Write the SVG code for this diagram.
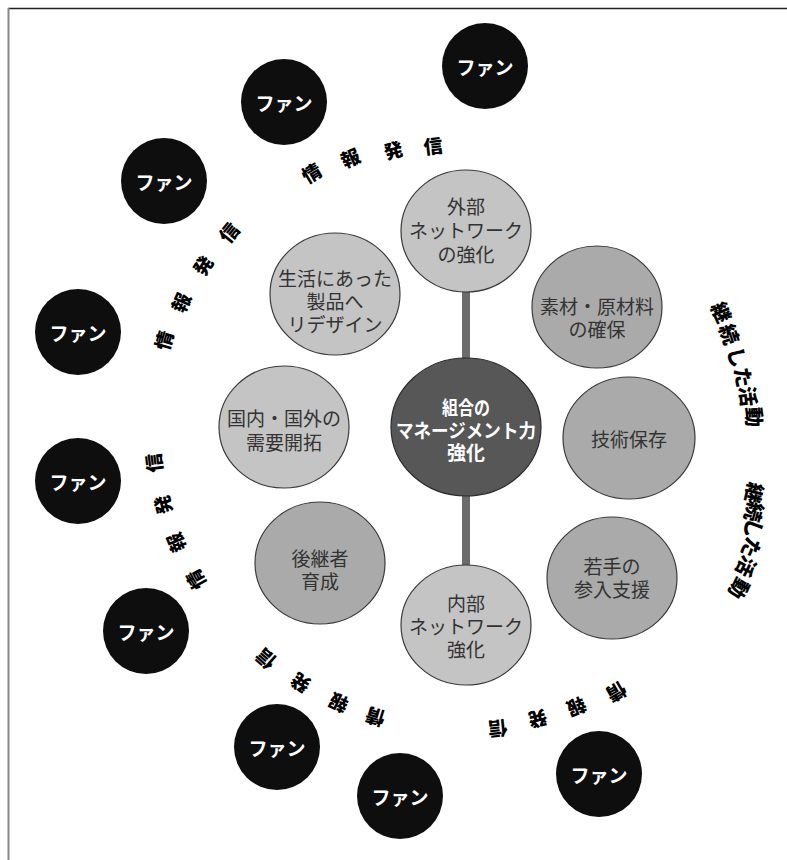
<svg xmlns="http://www.w3.org/2000/svg" width="787" height="860" viewBox="0 0 787 860">
<style>
text{font-family:"Noto Sans CJK JP","Noto Sans",sans-serif;text-anchor:middle;dominant-baseline:central}
.fan ellipse{fill:#0e0e0e}
.fan text{fill:#fff;font-size:19px;font-weight:bold}
.lt{fill:#c4c4c4;stroke:#3a3a3a;stroke-width:1.2}
.md{fill:#aaaaaa;stroke:#3a3a3a;stroke-width:1.2}
.ctr{fill:#575757;stroke:#2a2a2a;stroke-width:1.2}
.gt{fill:#333;font-size:19px}
.ct{fill:#fff;font-size:19px;font-weight:bold}
.lbl{fill:#000;font-size:19px;font-weight:900}
.lbl2{fill:#000;font-size:20px;font-weight:900}
.bar{stroke:#6b6b6b;stroke-width:8}
</style>
<rect width="787" height="860" fill="#fff"/>
<line x1="8" y1="8.5" x2="787" y2="8.5" stroke="#222" stroke-width="1.5"/>
<line x1="8.5" y1="8" x2="8.5" y2="860" stroke="#888" stroke-width="2"/>

<g id="connectors">
<line class="bar" x1="466" y1="288" x2="466" y2="362"/>
<line class="bar" x1="466" y1="492" x2="466" y2="569"/>
</g>

<g id="fan1" class="fan"><ellipse cx="485" cy="66" rx="43" ry="43"/><text x="485" y="66">ファン</text></g>
<g id="fan2" class="fan"><ellipse cx="284" cy="102" rx="43" ry="43"/><text x="284" y="102">ファン</text></g>
<g id="fan3" class="fan"><ellipse cx="164" cy="181" rx="43" ry="43"/><text x="164" y="181">ファン</text></g>
<g id="fan4" class="fan"><ellipse cx="78" cy="332" rx="43" ry="43"/><text x="78" y="332">ファン</text></g>
<g id="fan5" class="fan"><ellipse cx="78" cy="481" rx="43" ry="43"/><text x="78" y="481">ファン</text></g>
<g id="fan6" class="fan"><ellipse cx="146" cy="631" rx="43" ry="43"/><text x="146" y="631">ファン</text></g>
<g id="fan7" class="fan"><ellipse cx="277" cy="747" rx="43" ry="43"/><text x="277" y="747">ファン</text></g>
<g id="fan8" class="fan"><ellipse cx="400" cy="796" rx="43" ry="43"/><text x="400" y="796">ファン</text></g>
<g id="fan9" class="fan"><ellipse cx="599" cy="774" rx="43" ry="43"/><text x="599" y="774">ファン</text></g>

<g id="gaibu"><ellipse class="lt" cx="466" cy="231" rx="65" ry="61"/>
<text class="gt" x="466" y="205">外部</text><text class="gt" x="466" y="229">ネットワーク</text><text class="gt" x="466" y="253">の強化</text></g>
<g id="seikatsu"><ellipse class="lt" cx="335" cy="294" rx="65" ry="61"/>
<text class="gt" x="335" y="277">生活にあった</text><text class="gt" x="335" y="300">製品へ</text><text class="gt" x="335" y="323">リデザイン</text></g>
<g id="sozai"><ellipse class="md" cx="597" cy="307" rx="65" ry="61"/>
<text class="gt" x="597" y="305">素材・原材料</text><text class="gt" x="597" y="328">の確保</text></g>
<g id="kokunai"><ellipse class="lt" cx="284" cy="427" rx="65" ry="61"/>
<text class="gt" x="284" y="417">国内・国外の</text><text class="gt" x="284" y="441">需要開拓</text></g>
<g id="gijutsu"><ellipse class="md" cx="629" cy="438" rx="66" ry="61"/>
<text class="gt" x="629" y="438">技術保存</text></g>
<g id="koukeisha"><ellipse class="md" cx="320" cy="563" rx="65" ry="61"/>
<text class="gt" x="320" y="557">後継者</text><text class="gt" x="320" y="580">育成</text></g>
<g id="wakate"><ellipse class="md" cx="612" cy="578" rx="65" ry="61"/>
<text class="gt" x="612" y="565">若手の</text><text class="gt" x="612" y="588">参入支援</text></g>
<g id="naibu"><ellipse class="lt" cx="466" cy="625" rx="65" ry="60"/>
<text class="gt" x="466" y="602">内部</text><text class="gt" x="466" y="625">ネットワーク</text><text class="gt" x="466" y="648">強化</text></g>
<g id="center"><ellipse class="ctr" cx="466" cy="427" rx="75" ry="69"/>
<text class="ct" x="466" y="406" textLength="48" lengthAdjust="spacingAndGlyphs">組合の</text>
<text class="ct" x="466" y="429" textLength="140" lengthAdjust="spacingAndGlyphs">マネージメント力</text>
<text class="ct" x="466" y="451">強化</text></g>

<g id="label-top" class="lbl">
<text transform="translate(311,172) rotate(-31)">情</text>
<text transform="translate(350,157) rotate(-23)">報</text>
<text transform="translate(393,149) rotate(-15)">発</text>
<text transform="translate(433,145) rotate(-7)">信</text>
</g>
<g id="label-left1" class="lbl">
<text transform="translate(163,340) rotate(-74)">情</text>
<text transform="translate(180,302) rotate(-66)">報</text>
<text transform="translate(202,265) rotate(-58)">発</text>
<text transform="translate(228,232) rotate(-51)">信</text>
</g>
<g id="label-left2" class="lbl">
<text transform="translate(195,580) rotate(-119)">情</text>
<text transform="translate(175,543) rotate(-112)">報</text>
<text transform="translate(162,505) rotate(-104)">発</text>
<text transform="translate(153,463) rotate(-97)">信</text>
</g>
<g id="label-bottom1" class="lbl">
<text transform="translate(375,718) rotate(-163)">情</text>
<text transform="translate(338,704) rotate(-155)">報</text>
<text transform="translate(300,684) rotate(-147)">発</text>
<text transform="translate(265,660) rotate(-139)">信</text>
</g>
<g id="label-bottom2" class="lbl">
<text transform="translate(617,693) rotate(150)">情</text>
<text transform="translate(577,708) rotate(158)">報</text>
<text transform="translate(538,720) rotate(166)">発</text>
<text transform="translate(498,730) rotate(174)">信</text>
</g>
<g id="label-right1" class="lbl2">
<text transform="translate(722,312) rotate(66)">継</text>
<text transform="translate(730,334) rotate(71)">続</text>
<text transform="translate(738,357) rotate(76)">し</text>
<text transform="translate(744,377) rotate(80)">た</text>
<text transform="translate(749,396) rotate(84)">活</text>
<text transform="translate(755,417) rotate(88)">動</text>
</g>
<g id="label-right2" class="lbl2">
<text transform="translate(755,493) rotate(103)">継</text>
<text transform="translate(755,512) rotate(106)">続</text>
<text transform="translate(754,529) rotate(109)">し</text>
<text transform="translate(752,548) rotate(113)">た</text>
<text transform="translate(747,567) rotate(117)">活</text>
<text transform="translate(740,589) rotate(121)">動</text>
</g>
</svg>
